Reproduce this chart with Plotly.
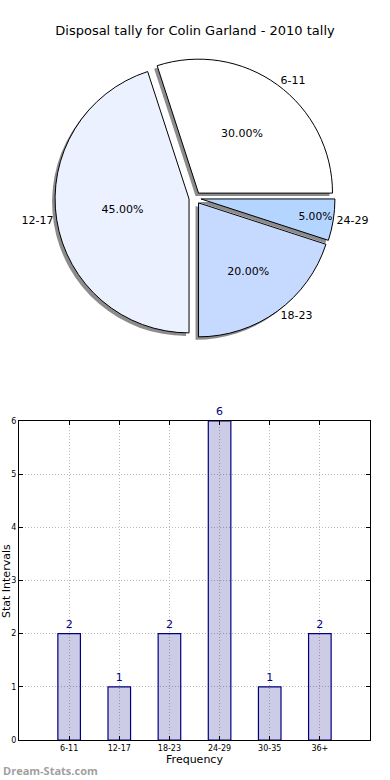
import plotly.graph_objects as go

# ---- data ----
title_text = "Disposal tally for Colin Garland - 2010 tally"
pie_labels = ["6-11", "12-17", "18-23", "24-29"]
pie_values = [30, 45, 20, 5]
pie_colors = ["#ffffff", "#ebf1ff", "#c6d9ff", "#b4d5ff"]

bar_categories = ["6-11", "12-17", "18-23", "24-29", "30-35", "36+"]
bar_values = [2, 1, 2, 6, 1, 2]
y_ticks = [0, 1, 2, 3, 4, 5, 6]

W, H = 390, 780
def px(v):
    return v / W
def py(v):
    return 1 - v / H

pull = 0.045
pie_cx, pie_cy, pie_half = 195, 198, 140
pie_dom_x = [px(pie_cx - pie_half), px(pie_cx + pie_half)]
pie_dom_y = [py(pie_cy + pie_half), py(pie_cy - pie_half)]
sh = 3  # shadow offset px

fig = go.Figure()

common = dict(labels=pie_labels, values=pie_values, sort=False,
              direction="counterclockwise", rotation=-18, pull=pull,
              showlegend=False, automargin=False)

# shadow pie
fig.add_trace(go.Pie(
    **common,
    marker=dict(colors=["#8c8c8c"] * 4, line=dict(color="#8c8c8c", width=0)),
    textinfo="none", hoverinfo="skip",
    domain=dict(x=[pie_dom_x[0] - sh / W, pie_dom_x[1] - sh / W],
                y=[pie_dom_y[0] - sh / H, pie_dom_y[1] - sh / H]),
))
# main pie with percentages inside
fig.add_trace(go.Pie(
    **common,
    marker=dict(colors=pie_colors, line=dict(color="#000000", width=1)),
    texttemplate="%{percent:.2%}", textposition="inside",
    insidetextorientation="horizontal",
    textfont=dict(family="DejaVu Sans", size=11, color="#000000"),
    domain=dict(x=pie_dom_x, y=pie_dom_y),
))
# transparent pie carrying outside labels
fig.add_trace(go.Pie(
    **common,
    marker=dict(colors=["rgba(0,0,0,0)"] * 4, line=dict(width=0)),
    texttemplate="%{label}", textposition="outside",
    outsidetextfont=dict(family="DejaVu Sans", size=11, color="#000000"),
    hoverinfo="skip",
    domain=dict(x=pie_dom_x, y=pie_dom_y),
))

# bar chart
fig.add_trace(go.Bar(
    x=list(range(len(bar_categories))), y=bar_values, width=0.45,
    marker=dict(color="rgba(0,0,128,0.2)", line=dict(color="#000080", width=1.2)),
    text=[str(v) for v in bar_values], textposition="outside",
    textfont=dict(family="DejaVu Sans", size=11, color="#000080"),
    cliponaxis=False, showlegend=False, xaxis="x", yaxis="y",
))

fig.update_layout(
    width=W, height=H,
    margin=dict(l=0, r=0, t=0, b=0, autoexpand=False),
    paper_bgcolor="#ffffff", plot_bgcolor="#ffffff",
    font=dict(family="DejaVu Sans", color="#000000"),
    title=dict(text=title_text, x=px(195), xanchor="center", y=py(30), yanchor="middle",
               font=dict(family="DejaVu Sans", size=13, color="#000000")),
    xaxis=dict(
        domain=[px(19), px(370)], range=[-1, 6], automargin=False,
        tickmode="array", tickvals=list(range(len(bar_categories))), ticktext=bar_categories,
        tickfont=dict(family="DejaVu Sans", size=8, color="#000000"),
        showgrid=True, gridcolor="#bbbbbb", griddash="1px,2px", gridwidth=1,
        showline=True, linecolor="#000000", linewidth=1, mirror="ticks",
        ticks="inside", ticklen=4, tickcolor="#000000",
        zeroline=False, anchor="y",
        title=dict(text="Frequency", standoff=0,
                   font=dict(family="DejaVu Sans", size=11, color="#000000")),
    ),
    yaxis=dict(
        domain=[py(740), py(421)], range=[0, 6], automargin=False,
        tickmode="array", tickvals=y_ticks,
        tickfont=dict(family="DejaVu Sans", size=8, color="#000000"),
        showgrid=True, gridcolor="#bbbbbb", griddash="1px,2px", gridwidth=1,
        showline=True, linecolor="#000000", linewidth=1, mirror="ticks",
        ticks="inside", ticklen=4, tickcolor="#000000",
        zeroline=False, anchor="x",
    ),
    annotations=[
        dict(text="Stat Intervals", textangle=-90, x=px(6), xref="paper", xanchor="center",
             y=py(581), yref="paper", yanchor="middle", showarrow=False,
             font=dict(family="DejaVu Sans", size=11, color="#000000")),
        dict(text="<b>Dream-Stats.com</b>", x=px(1), xref="paper", xanchor="left",
             y=py(770), yref="paper", yanchor="middle", showarrow=False,
             font=dict(family="Open Sans", size=11, color="#a0a0a0")),
    ],
)

# the default page body has an 8px margin; remove it so the figure fills the window
fig.write_html("out.html", config={"displayModeBar": False},
               post_script="document.body.style.margin='0px';")
